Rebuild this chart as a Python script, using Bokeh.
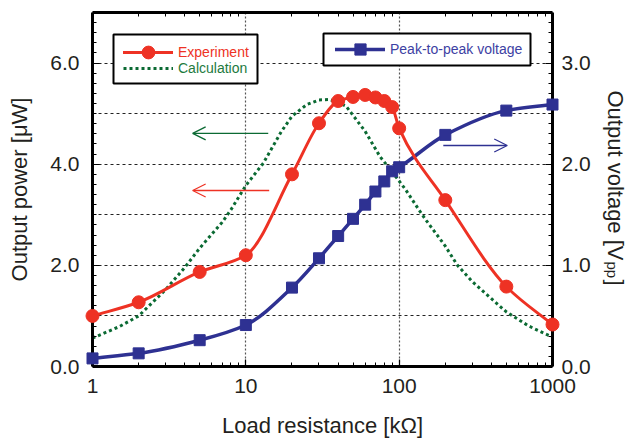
import numpy as np
from bokeh.plotting import figure
from bokeh.core.properties import value
from bokeh.models import (Range1d, LinearAxis, LogAxis, FixedTicker, NumeralTickFormatter,
                          BasicTickFormatter, Legend, LegendItem, Arrow, OpenHead,
                          BoxAnnotation, ColumnDataSource)
from bokeh.embed import file_html
from bokeh.resources import INLINE

# Load resistance of the measured points [kOhm]
resistance = [1, 2, 5, 10, 20, 30, 40, 50, 60, 70, 80, 90, 100, 200, 500, 1000]
# Measured output power [uW]
power_exp = [1.00, 1.27, 1.87, 2.20, 3.80, 4.81, 5.25, 5.33, 5.37, 5.32, 5.25, 5.13, 4.71,
             3.29, 1.58, 0.83]
# Measured peak-to-peak voltage [Vpp]
voltage_pp = [0.08, 0.13, 0.26, 0.41, 0.78, 1.07, 1.29, 1.46, 1.60, 1.73, 1.83, 1.93, 1.97,
              2.29, 2.53, 2.59]

# Calculated output power curve
calc_resistance = [1, 1.5, 2, 3, 4, 5, 7, 8, 10, 13, 17, 20, 25, 30, 35, 40, 45, 60, 75, 90,
                   110, 135, 150, 200, 240, 300, 400, 500, 700, 1000]
power_calc = [0.56, 0.79, 1.00, 1.52, 1.96, 2.34, 2.85, 3.10, 3.58, 4.02, 4.64, 4.95, 5.18,
              5.27, 5.28, 5.22, 5.15, 4.65, 4.15, 3.85, 3.50, 3.09, 2.89, 2.38, 2.00, 1.68,
              1.34, 1.08, 0.80, 0.58]

# Direction arrows: (x_start, x_end, y) on the power axis
arrow_calc = (14.0, 4.5, 4.61)
arrow_exp = (14.2, 4.5, 3.48)
arrow_volt = (194, 507, 4.37)

X_RANGE = (1, 1000)
Y_RANGE = (0, 7)
V_RANGE = (0, 3.5)

RED = "#ee3224"
GREEN = "#0b6a33"
GREEN_TEXT = "#1d7a3e"
BLUE = "#2e3192"
BLUE_TEXT = "#3d41a3"
TEXT = "#231f20"
FONT = "Liberation Sans"

# page layout (pixels)
W, H = 630, 440
LEFT, RIGHT, TOP, BOTTOM = 92, 78, 12, 74
FW, FH = W - LEFT - RIGHT, H - TOP - BOTTOM


def px_to_data(px, py):
    """Convert a page pixel position to (log-x, power-y) data coordinates."""
    lx0, lx1 = np.log10(X_RANGE[0]), np.log10(X_RANGE[1])
    x = 10 ** (lx0 + (px - LEFT) / FW * (lx1 - lx0))
    y = Y_RANGE[0] + (TOP + FH - py) / FH * (Y_RANGE[1] - Y_RANGE[0])
    return x, y


def smooth(xs, ys):
    """Monotone cubic (PCHIP) segments in log-x space through every point, as Bezier pieces."""
    xs = np.asarray(xs, float)
    y = np.asarray(ys, float)
    lx = np.log10(xs)
    h = np.diff(lx)
    d = np.diff(y) / h
    m = np.zeros_like(y)
    m[0], m[-1] = d[0], d[-1]
    for k in range(1, len(y) - 1):
        if d[k - 1] * d[k] > 0:
            w1 = 2 * h[k] + h[k - 1]
            w2 = h[k] + 2 * h[k - 1]
            m[k] = (w1 + w2) / (w1 / d[k - 1] + w2 / d[k])
    return ColumnDataSource(dict(
        x0=xs[:-1], y0=y[:-1], x1=xs[1:], y1=y[1:],
        cx0=10 ** (lx[:-1] + h / 3), cy0=y[:-1] + m[:-1] * h / 3,
        cx1=10 ** (lx[1:] - h / 3), cy1=y[1:] - m[1:] * h / 3,
    ))


p = figure(width=W, height=H, x_axis_type="log",
           x_range=Range1d(*X_RANGE), y_range=Range1d(*Y_RANGE),
           output_backend="svg", toolbar_location=None,
           min_border_left=LEFT, min_border_right=RIGHT,
           min_border_top=TOP, min_border_bottom=BOTTOM)
p.extra_y_ranges = {"volt": Range1d(*V_RANGE)}
p.outline_line_color = None
p.background_fill_color = "white"

minor_x = [k * 10 ** e for e in range(3) for k in range(2, 10)]


def style_axis(ax):
    ax.axis_line_width = 3
    ax.axis_line_color = "black"
    ax.major_tick_in = 7
    ax.major_tick_out = 0
    ax.minor_tick_in = 4
    ax.minor_tick_out = 0
    ax.major_tick_line_width = 1.2
    ax.minor_tick_line_width = 1
    ax.major_tick_line_color = "black"
    ax.minor_tick_line_color = "black"
    ax.major_label_text_font = FONT
    ax.major_label_text_font_size = "21px"
    ax.major_label_text_color = TEXT
    ax.axis_label_text_font = FONT
    ax.axis_label_text_font_size = "22px"
    ax.axis_label_text_font_style = "normal"
    ax.axis_label_text_color = TEXT


xb = p.xaxis[0]
xb.ticker = FixedTicker(ticks=[1, 10, 100, 1000], minor_ticks=minor_x)
xb.formatter = BasicTickFormatter(use_scientific=False)
xb.axis_label = "Load resistance [kΩ]"
style_axis(xb)
xb.major_label_standoff = 12
xb.axis_label_standoff = 17

yl = p.yaxis[0]
yl.ticker = FixedTicker(ticks=[0, 2, 4, 6], minor_ticks=list(np.round(np.arange(0, 7.01, 0.2), 2)))
yl.formatter = NumeralTickFormatter(format="0.0")
yl.axis_label = "Output power [μW]"
style_axis(yl)
yl.major_label_standoff = 13
yl.axis_label_standoff = 15

yr = LinearAxis(y_range_name="volt",
                ticker=FixedTicker(ticks=[0, 1, 2, 3],
                                   minor_ticks=list(np.round(np.arange(0, 3.51, 0.1), 2))),
                formatter=NumeralTickFormatter(format="0.0"))
style_axis(yr)
yr.major_label_standoff = 9
p.add_layout(yr, "right")

# top frame edge: minor ticks only
xt = LogAxis(ticker=FixedTicker(ticks=[], minor_ticks=minor_x))
style_axis(xt)
p.add_layout(xt, "above")

# right axis title with a subscript, drawn as rotated text pieces beside the frame
title_parts = [("Output voltage [V", 615, 90, "22px"),
               ("pp", 612, 261, "15px"),
               ("]", 615, 279, "22px")]
for txt, px, py, size in title_parts:
    tx, ty = px_to_data(px, py)
    p.text(x=[tx], y=[ty], text=[txt], angle=-np.pi / 2, text_font=value(FONT),
           text_font_size=size, text_color=TEXT, text_align="left",
           text_baseline="alphabetic", level="overlay")

# dotted grid
p.xgrid.ticker = FixedTicker(ticks=[10, 100])
p.xgrid.grid_line_color = "#555555"
p.xgrid.grid_line_dash = "2 2"
p.xgrid.grid_line_width = 1.2
p.ygrid.ticker = FixedTicker(ticks=[1, 2, 3, 4, 5, 6])
p.ygrid.grid_line_color = "#222222"
p.ygrid.grid_line_dash = "3 3"
p.ygrid.grid_line_width = 1

# calculated curve
calc_line = p.line(calc_resistance, power_calc, line_color=GREEN, line_width=3,
                   line_dash="3 3")

# peak-to-peak voltage
volt_curve = p.bezier(x0="x0", y0="y0", x1="x1", y1="y1", cx0="cx0", cy0="cy0",
                      cx1="cx1", cy1="cy1", source=smooth(resistance, voltage_pp),
                      y_range_name="volt", line_color=BLUE, line_width=3.5, line_cap="round")
volt_pts = p.scatter(resistance, voltage_pp, y_range_name="volt", marker="square",
                     size=11, fill_color=BLUE, line_color=BLUE, level="overlay")

# measured power
exp_curve = p.bezier(x0="x0", y0="y0", x1="x1", y1="y1", cx0="cx0", cy0="cy0",
                     cx1="cx1", cy1="cy1", source=smooth(resistance, power_exp),
                     line_color=RED, line_width=3, line_cap="round")
exp_pts = p.scatter(resistance, power_exp, marker="circle", size=13,
                    fill_color=RED, line_color=RED, level="overlay")

# arrows pointing at the relevant axis
for (xs, xe, yv), col in ((arrow_calc, GREEN), (arrow_exp, RED), (arrow_volt, BLUE)):
    p.add_layout(Arrow(x_start=xs, y_start=yv, x_end=xe, y_end=yv, line_color=col,
                       line_width=1.3,
                       end=OpenHead(size=13, line_color=col, line_width=1.3)))

# legend frames
for (l, t, r, b) in ((113, 34, 257, 83), (323, 33, 530, 65)):
    x0, y0 = px_to_data(l, b)
    x1, y1 = px_to_data(r, t)
    p.add_layout(BoxAnnotation(left=x0, right=x1, bottom=y0, top=y1,
                               fill_color="white", fill_alpha=1.0,
                               line_color="black", line_width=2, line_alpha=1.0))


def make_legend(items, loc, color, row_h):
    lg = Legend(items=items, location=loc, margin=0, padding=0, spacing=0,
                glyph_width=50, glyph_height=row_h, label_height=row_h, label_standoff=5,
                label_text_font=FONT, label_text_font_size="14px", label_text_color=color,
                border_line_color=None, background_fill_alpha=0.0)
    p.add_layout(lg, "center")
    return lg


make_legend([LegendItem(label="Experiment", renderers=[exp_curve, exp_pts])],
            (31, 298), RED, 32)
make_legend([LegendItem(label="Calculation", renderers=[calc_line])],
            (31, 290), GREEN_TEXT, 16)
make_legend([LegendItem(label="Peak-to-peak voltage", renderers=[volt_curve, volt_pts])],
            (243, 303), BLUE_TEXT, 28)

open("out.html", "w").write(file_html(p, INLINE))
